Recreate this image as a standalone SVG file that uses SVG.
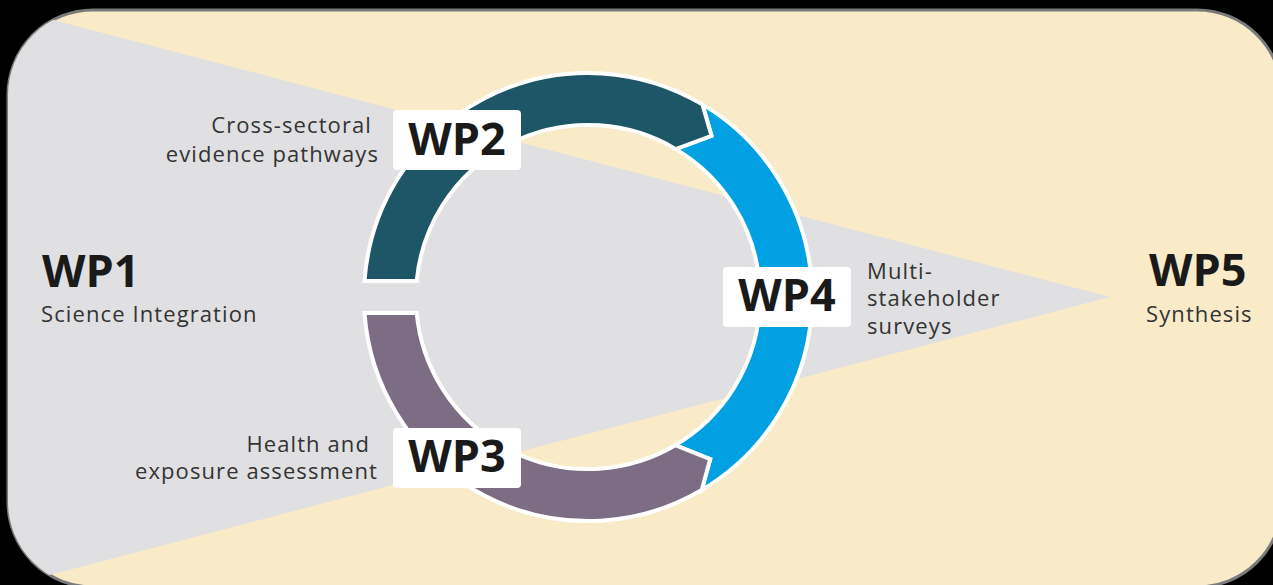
<svg xmlns="http://www.w3.org/2000/svg" width="1273" height="585" viewBox="0 0 1273 585">
<style>
.wp{font-family:"Open Sans","Liberation Sans",sans-serif;font-weight:700;font-size:45px;fill:#1a1a1a}
.lbl{font-family:"Open Sans","Liberation Sans",sans-serif;font-size:22px;fill:#333;letter-spacing:1.1px}
.seg{stroke:#fff;stroke-width:4;stroke-linejoin:miter}
.box{fill:#fff}
</style>
<defs>
<clipPath id="frame"><rect x="8" y="10" width="1274" height="577" rx="85"/></clipPath>
</defs>
<rect width="1273" height="585" fill="#000"/>
<rect x="8" y="10" width="1274" height="577" rx="85" fill="#f9ebc8" stroke="#7a7a7a" stroke-width="3"/>
<polygon clip-path="url(#frame)" points="0,6 1110,297 0,588" fill="#e0e0e2"/>
<g id="ring">
<path id="wp4-seg" class="seg" fill="#00a0e2" d="M702.4,104.4 A224,224 0 0 1 701.7,490 L710.2,459.1 L675.3,445.2 A172,172 0 0 0 675.8,149.1 L711.5,135.8 Z"/>
<path id="wp2-seg" class="seg" fill="#1c5667" d="M364.5,281 A224,224 0 0 1 702.4,104.4 L711.5,135.8 L675.8,149.1 A172,172 0 0 0 416.7,281 Z"/>
<path id="wp3-seg" class="seg" fill="#7c6c84" d="M701.7,490 A224,224 0 0 1 364.5,313 L416.7,313 A172,172 0 0 0 675.3,445.2 L710.2,459.1 Z"/>
</g>
<g id="wp1">
<text class="wp" x="42" y="287">WP1</text>
<text class="lbl" x="41" y="322">Science Integration</text>
</g>
<g id="wp2">
<rect class="box" x="393" y="110" width="128" height="60" rx="4"/>
<text class="wp" x="457" y="155" text-anchor="middle">WP2</text>
<text class="lbl" x="372" y="133" text-anchor="end">Cross-sectoral</text>
<text class="lbl" x="379" y="162" text-anchor="end">evidence pathways</text>
</g>
<g id="wp3">
<rect class="box" x="393" y="428" width="128" height="60" rx="4"/>
<text class="wp" x="457" y="472" text-anchor="middle">WP3</text>
<text class="lbl" x="370" y="452" text-anchor="end">Health and</text>
<text class="lbl" x="378" y="479" text-anchor="end">exposure assessment</text>
</g>
<g id="wp4">
<rect class="box" x="723" y="267" width="128" height="60" rx="4"/>
<text class="wp" x="787" y="311" text-anchor="middle">WP4</text>
<text class="lbl" x="867" y="278.5">Multi-</text>
<text class="lbl" x="867" y="306">stakeholder</text>
<text class="lbl" x="867" y="333.5">surveys</text>
</g>
<g id="wp5">
<text class="wp" x="1149" y="286">WP5</text>
<text class="lbl" x="1146" y="322">Synthesis</text>
</g>
<g id="connectors"></g>
</svg>
